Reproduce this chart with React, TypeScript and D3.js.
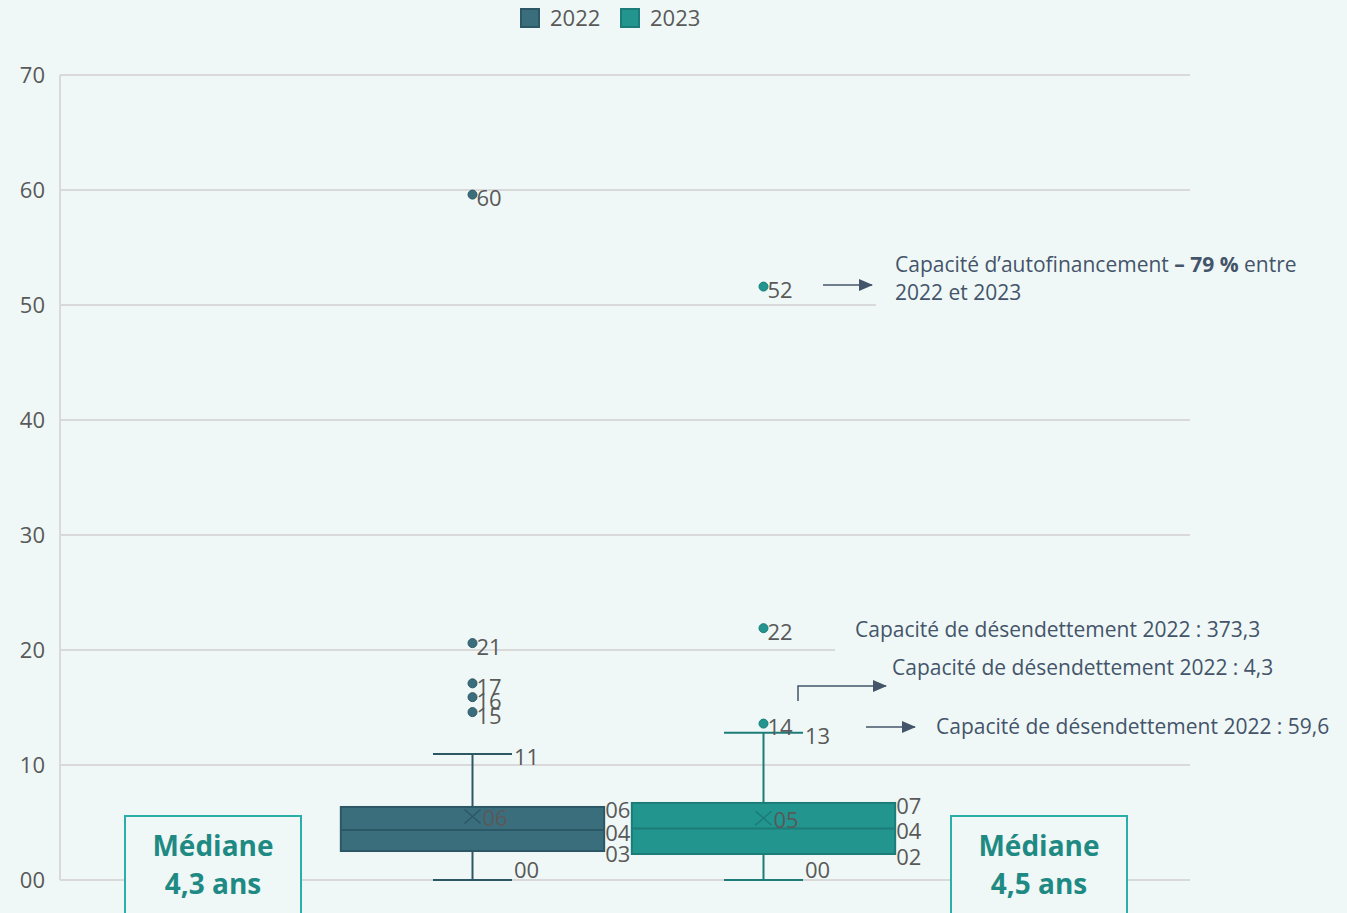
import React from 'react';
import * as d3 from 'd3';

// box plot values
const years = ['2022', '2023'];
const whiskerLow = [0, 0];
const q1 = [2.52, 2.26];
const medians = [4.35, 4.48];
const q3 = [6.35, 6.7];
const means = [5.52, 5.38];
const whiskerHigh = [10.96, 12.8];
const outliers = [
    [59.6, 20.6, 17.1, 15.9, 14.6],
    [51.6, 21.9, 13.6],
];
const yTicks = [0, 10, 20, 30, 40, 50, 60, 70];
const fills = ['#3B6E7D', '#22958F'];
const strokes = ['#2C5866', '#1C7D78'];
const medianNotes = ['Médiane|4,3 ans', 'Médiane|4,5 ans'];

const W = 1347;
const H = 913;
const BG = '#EFF8F6';
const FONT = '"Open Sans", "Noto Sans", sans-serif';
const LABEL = '#595959';
const NOTE = '#44546A';

const fmt = (v: number) => String(Math.round(v)).padStart(2, '0');

const App = () => {
    const y = d3.scaleLinear().domain([0, 70]).range([880, 75]);
    const x = d3.scaleBand().domain(years).range([327, 909]).paddingInner(0).paddingOuter(0);
    const boxW = x.bandwidth() * 0.905;
    const capW = boxW * 0.3;
    const plotLeft = 60;
    const plotRight = 1190;

    const labelStyle = { fontFamily: FONT, fontSize: 22, fill: LABEL } as const;

    return (
        <svg width={W} height={H} style={{ position: 'absolute', left: 0, top: 0 }}>
            <defs>
                <marker id="arr" viewBox="0 0 14 12" refX="13" refY="6" markerWidth="14" markerHeight="12" markerUnits="userSpaceOnUse" orient="auto">
                    <path d="M0,0 L14,6 L0,12 z" fill={NOTE} />
                </marker>
            </defs>
            <rect width={W} height={H} fill={BG} />

            {/* legend */}
            <g fontFamily={FONT} fontSize={22} fill={LABEL}>
                {years.map((yr, i) => (
                    <g key={yr} transform={`translate(${520 + i * 100},8)`}>
                        <rect x={1} y={1} width={18} height={18} fill={fills[i]} stroke={strokes[i]} strokeWidth={2} />
                        <text x={30} y={18}>{yr}</text>
                    </g>
                ))}
            </g>

            {/* grid + axis */}
            {yTicks.map(t => (
                <g key={t}>
                    <line x1={plotLeft} x2={plotRight} y1={y(t)} y2={y(t)} stroke="#D9D9D9" strokeWidth={2} />
                    <text x={45} y={y(t)} dy="0.35em" textAnchor="end" {...labelStyle}>{fmt(t)}</text>
                </g>
            ))}
            <line x1={plotLeft} x2={plotLeft} y1={y(70)} y2={y(0)} stroke="#D9D9D9" strokeWidth={2} />

            {/* boxes */}
            {years.map((yr, i) => {
                const cx = (x(yr) as number) + x.bandwidth() / 2;
                const left = cx - boxW / 2;
                const right = cx + boxW / 2;
                const mx = cx;
                const my = y(means[i]);
                return (
                    <g key={yr}>
                        <line x1={cx} x2={cx} y1={y(whiskerHigh[i])} y2={y(q3[i])} stroke={strokes[i]} strokeWidth={2} />
                        <line x1={cx} x2={cx} y1={y(q1[i])} y2={y(whiskerLow[i])} stroke={strokes[i]} strokeWidth={2} />
                        <line x1={cx - capW / 2} x2={cx + capW / 2} y1={y(whiskerHigh[i])} y2={y(whiskerHigh[i])} stroke={strokes[i]} strokeWidth={2} />
                        <line x1={cx - capW / 2} x2={cx + capW / 2} y1={y(whiskerLow[i])} y2={y(whiskerLow[i])} stroke={strokes[i]} strokeWidth={2} />
                        <rect x={left} y={y(q3[i])} width={boxW} height={y(q1[i]) - y(q3[i])} fill={fills[i]} stroke={strokes[i]} strokeWidth={2} />
                        <line x1={left} x2={right} y1={y(medians[i])} y2={y(medians[i])} stroke={strokes[i]} strokeWidth={2} />
                        <path d={`M${mx - 8},${my - 7} L${mx + 8},${my + 7} M${mx - 8},${my + 7} L${mx + 8},${my - 7}`} stroke={strokes[i]} strokeWidth={1.5} />
                        <text x={mx + 10} y={my + 2} dy="0.35em" {...labelStyle}>{fmt(means[i])}</text>
                        <text x={right + 1} y={y(q3[i]) + 3} dy="0.35em" {...labelStyle}>{fmt(q3[i])}</text>
                        <text x={right + 1} y={y(medians[i]) + 3} dy="0.35em" {...labelStyle}>{fmt(medians[i])}</text>
                        <text x={right + 1} y={y(q1[i]) + 3} dy="0.35em" {...labelStyle}>{fmt(q1[i])}</text>
                        <text x={cx + capW / 2 + 2} y={y(whiskerHigh[i]) + 3} dy="0.35em" {...labelStyle}>{fmt(whiskerHigh[i])}</text>
                        <text x={cx + capW / 2 + 2} y={y(whiskerLow[i]) - 10} dy="0.35em" {...labelStyle}>{fmt(whiskerLow[i])}</text>
                        {outliers[i].map((v, j) => (
                            <g key={j}>
                                <circle cx={cx} cy={y(v)} r={4.5} fill={fills[i]} stroke={strokes[i]} strokeWidth={1} />
                                <text x={cx + 4} y={y(v) + 4} dy="0.35em" {...labelStyle}>{fmt(v)}</text>
                            </g>
                        ))}
                    </g>
                );
            })}

            {/* median callouts */}
            {medianNotes.map((m, i) => {
                const bx = i === 0 ? 125 : 951;
                const [l1, l2] = m.split('|');
                return (
                    <g key={m}>
                        <rect x={bx} y={816} width={176} height={110} fill={BG} stroke="#2AAEA8" strokeWidth={2} />
                        <text x={bx + 88} y={856} textAnchor="middle" fontFamily={FONT} fontSize={28} fontWeight={700} fill="#1F8A84">{l1}</text>
                        <text x={bx + 88} y={894} textAnchor="middle" fontFamily={FONT} fontSize={28} fontWeight={700} fill="#1F8A84">{l2}</text>
                    </g>
                );
            })}

            {/* annotations */}
            <g fontFamily={FONT} fontSize={21} fill={NOTE}>
                <rect x={876} y={248} width={471} height={60} fill={BG} />
                <text x={895} y={272}>
                    Capacité d’autofinancement <tspan fontWeight={700}>– 79 %</tspan> entre
                </text>
                <text x={895} y={300}>2022 et 2023</text>
                <line x1={823} x2={872} y1={285} y2={285} stroke={NOTE} strokeWidth={1.5} markerEnd="url(#arr)" />

                <rect x={835} y={612} width={512} height={42} fill={BG} />
                <text x={855} y={637}>Capacité de désendettement 2022 : 373,3</text>

                <text x={892} y={675}>Capacité de désendettement 2022 : 4,3</text>
                <polyline points="798,701 798,686 886,686" fill="none" stroke={NOTE} strokeWidth={1.5} markerEnd="url(#arr)" />

                <text x={936} y={734}>Capacité de désendettement 2022 : 59,6</text>
                <line x1={866} x2={915} y1={727} y2={727} stroke={NOTE} strokeWidth={1.5} markerEnd="url(#arr)" />
            </g>
        </svg>
    );
};

export default App;
